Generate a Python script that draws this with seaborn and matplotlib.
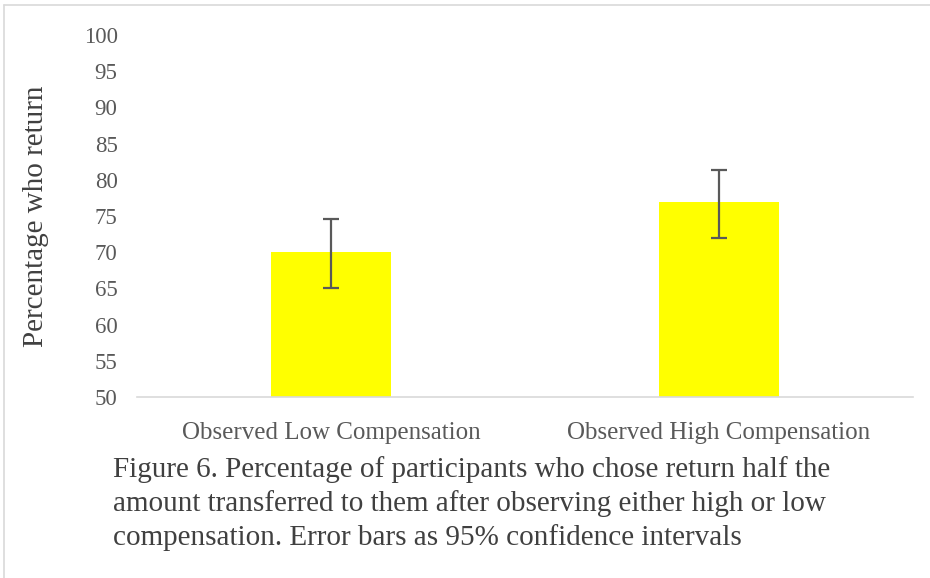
import matplotlib
matplotlib.use("Agg")
import matplotlib.pyplot as plt
import seaborn as sns
import pandas as pd
from matplotlib.lines import Line2D

categories = ["Observed Low Compensation", "Observed High Compensation"]
values = [70.0, 77.0]
ci_low = [65.1, 72.0]
ci_high = [74.6, 81.3]
yticks = [50, 55, 60, 65, 70, 75, 80, 85, 90, 95, 100]

sns.set_theme(style="white")
plt.rcParams['font.family'] = ['Liberation Serif', 'DejaVu Serif']

df = pd.DataFrame({"cat": categories, "val": values})

fig = plt.figure(figsize=(9.3, 5.78), dpi=100)
ax = fig.add_axes([137/930, 1-397/578, 776/930, 362/578])

sns.barplot(data=df, x="cat", y="val", color="#FFFF00", width=0.31,
            saturation=1, ax=ax, errorbar=None)
for p in ax.patches:
    p.set_edgecolor("none")

yerr = [[v - l for v, l in zip(values, ci_low)], [h - v for v, h in zip(values, ci_high)]]
ax.errorbar(range(len(categories)), values, yerr=yerr, fmt="none",
            ecolor="#595959", elinewidth=1.6, capsize=5.5, capthick=1.6)

ax.set_ylim(50, 100)
ax.set_xlim(-0.5, 1.5)
ax.set_yticks(yticks)
ax.set_yticklabels([str(t) for t in yticks], fontsize=16.5, color="#595959")
ax.tick_params(axis="x", labelsize=18, labelcolor="#595959", length=0, pad=18)
ax.tick_params(axis="y", length=0, pad=14)
for lab in ax.get_yticklabels():
    lab.set_horizontalalignment("right")
ax.set_xlabel("")
ax.set_ylabel("Percentage who return", fontsize=21, color="#404040")
ax.yaxis.set_label_coords(-0.113, 0.5)
for s in ["top", "right", "left"]:
    ax.spines[s].set_visible(False)
ax.spines["bottom"].set_color("#d9d9d9")
ax.spines["bottom"].set_linewidth(1.2)
ax.grid(False)

caption = ("Figure 6. Percentage of participants who chose return half the\n"
           "amount transferred to them after observing either high or low\n"
           "compensation. Error bars as 95% confidence intervals")
fig.text(113/930, 1-456/578, caption, fontsize=21, color="#404040",
         ha="left", va="top", linespacing=1.33)

fig.add_artist(Line2D([4/930, 4/930], [0, 1-5/578], transform=fig.transFigure,
                      color="#d9d9d9", lw=1.2))
fig.add_artist(Line2D([4/930, 1], [1-5/578, 1-5/578], transform=fig.transFigure,
                      color="#d9d9d9", lw=1.2))

fig.savefig("out.png", dpi=100)
